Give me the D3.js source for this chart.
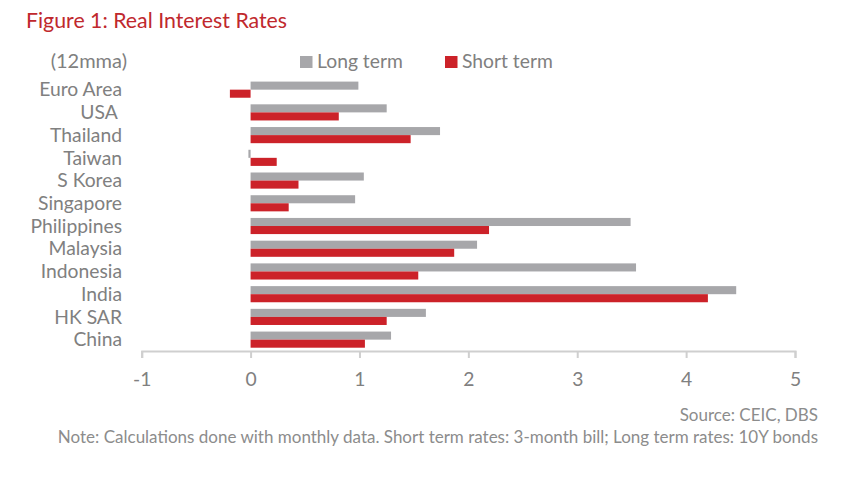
<!DOCTYPE html>
<html>
<head>
<meta charset="utf-8">
<script src="https://cdn.jsdelivr.net/npm/d3@7"></script>
<style>
  body { margin: 0; background: #fff; }
  text { font-family: Lato, "Open Sans", sans-serif; }
</style>
</head>
<body>
<svg id="chart" width="847" height="486"></svg>
<script>
// categories top to bottom
const countries = ['Euro Area', 'USA ', 'Thailand', 'Taiwan', 'S Korea', 'Singapore', 'Philippines', 'Malaysia', 'Indonesia', 'India', 'HK SAR', 'China']
const longTerm = [0.99, 1.25, 1.74, -0.02, 1.04, 0.96, 3.49, 2.08, 3.54, 4.46, 1.61, 1.29]
const shortTerm = [-0.19, 0.81, 1.47, 0.24, 0.44, 0.35, 2.19, 1.87, 1.54, 4.20, 1.25, 1.05]
const xTicks = [-1, 0, 1, 2, 3, 4, 5]
const series = ['Long term', 'Short term']

const SVG = d3.select('#chart')
const color = { 'Long term': '#a7a7aa', 'Short term': '#cc2229' }
const textGray = '#808080'
const labelSize = '19.3px'

const xscale = d3.scaleLinear()
    .domain([-1, 5])
    .range([141.7, 795])

const yscale = d3.scaleBand()
    .domain(countries)
    .range([78.3, 351])
    .paddingInner(0.29)
    .paddingOuter(0.145)

const inner = d3.scaleBand()
    .domain(series)
    .range([0, yscale.bandwidth()])

// title
SVG.append('text')
    .text('Figure 1: Real Interest Rates')
    .attr('x', 26)
    .attr('y', 28)
    .style('fill', '#c0282d')
    .style('font-size', '21.3px')

SVG.append('text')
    .text('(12mma)')
    .attr('x', 127)
    .attr('y', 68)
    .style('text-anchor', 'end')
    .style('fill', textGray)
    .style('font-size', '20px')

// legend
const legendX = [300, 445]
series.forEach((s, i) => {
    SVG.append('rect')
        .attr('x', legendX[i])
        .attr('y', 56)
        .attr('width', 12.5)
        .attr('height', 12)
        .style('fill', color[s])
    SVG.append('text')
        .text(s)
        .attr('x', legendX[i] + 17)
        .attr('y', 68)
        .style('fill', textGray)
        .style('font-size', labelSize)
})

// bars
const rows = SVG.append('g')
    .selectAll('g')
    .data(countries)
    .join('g')
    .attr('transform', d => `translate(0, ${yscale(d)})`)

rows.each(function (c, i) {
    const vals = { 'Long term': longTerm[i], 'Short term': shortTerm[i] }
    d3.select(this).selectAll('rect')
        .data(series)
        .join('rect')
        .attr('x', s => xscale(Math.min(0, vals[s])))
        .attr('y', s => inner(s))
        .attr('width', s => Math.abs(xscale(vals[s]) - xscale(0)))
        .attr('height', inner.bandwidth())
        .style('fill', s => color[s])
})

// category labels
SVG.append('g')
    .selectAll('text')
    .data(countries)
    .join('text')
    .text(d => d)
    .attr('x', 122)
    .attr('y', d => yscale(d) + yscale.bandwidth() / 2)
    .attr('dy', '0.35em')
    .style('text-anchor', 'end')
    .style('white-space', 'pre')
    .style('fill', textGray)
    .style('font-size', labelSize)

// x axis
const bottom = d3.axisBottom(xscale)
    .tickValues(xTicks)
    .tickSizeInner(7)
    .tickSizeOuter(7)
    .tickPadding(14)
    .tickFormat(d3.format('d'))

const ax = SVG.append('g')
    .attr('transform', 'translate(0, 351)')
    .call(bottom)

ax.select('.domain').style('stroke', '#cfcfcf').style('stroke-width', 2)
ax.selectAll('.tick line').style('stroke', '#cfcfcf').style('stroke-width', 2)
ax.selectAll('.tick text')
    .style('fill', textGray)
    .style('font-size', labelSize)
    .style('font-family', 'Lato, "Open Sans", sans-serif')
    .text(d => d < 0 ? '-' + Math.abs(d) : d)

// footnotes
SVG.append('text')
    .text('Source: CEIC, DBS')
    .attr('x', 818)
    .attr('y', 421)
    .style('text-anchor', 'end')
    .style('fill', '#8c8c8c')
    .style('font-size', '17px')

SVG.append('text')
    .text('Note: Calculations done with monthly data. Short term rates: 3-month bill; Long term rates: 10Y bonds')
    .attr('x', 818)
    .attr('y', 443)
    .style('text-anchor', 'end')
    .style('fill', '#8c8c8c')
    .style('font-size', '17px')
</script>
</body>
</html>
